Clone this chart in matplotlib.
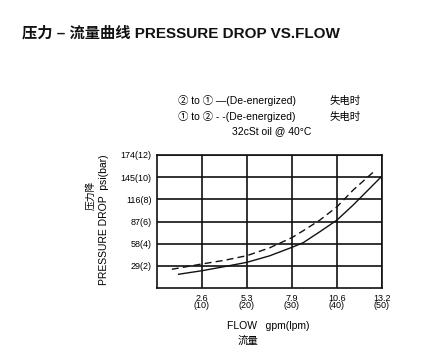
import matplotlib.pyplot as plt

plt.rcParams['font.family'] = ['Liberation Sans', 'Noto Sans CJK SC', 'DejaVu Sans']

# データ (流量 lpm, 圧力 bar)
flow_solid = [4.8, 10, 15, 20, 25, 30, 32.5, 36.2, 40, 43.6, 47.3, 50]
bar_solid = [1.24, 1.56, 1.93, 2.32, 2.9, 3.67, 4.09, 5.08, 6.13, 7.49, 9.0, 10.1]
flow_dash = [3.3, 10, 15, 20, 25, 30, 32.5, 36.2, 40, 43.6, 48.6]
bar_dash = [1.69, 2.17, 2.5, 2.92, 3.62, 4.55, 5.17, 6.13, 7.33, 8.84, 10.65]

x_ticks = [10, 20, 30, 40, 50]
x_labels = ['2.6\n(10)', '5.3\n(20)', '7.9\n(30)', '10.6\n(40)', '13.2\n(50)']
y_ticks = [2, 4, 6, 8, 10, 12]
y_labels = ['29(2)', '58(4)', '87(6)', '116(8)', '145(10)', '174(12)']

fig = plt.figure(figsize=(4.39, 3.58), dpi=100)
ax = fig.add_axes([157/439, 1-288/358, 225/439, 133/358])

ax.plot(flow_solid, bar_solid, color='#111111', linewidth=1.0)
ax.plot(flow_dash, bar_dash, color='#111111', linewidth=1.0, dashes=(5, 3))

ax.set_xlim(0, 50)
ax.set_ylim(0, 12)
ax.set_xticks(x_ticks)
ax.set_xticklabels(x_labels, fontsize=6.5, linespacing=0.8)
ax.set_yticks(y_ticks)
ax.set_yticklabels(y_labels, fontsize=6.5)
ax.tick_params(length=0, pad=4)
ax.grid(True, color='#111111', linewidth=1.2)
for s in ax.spines.values():
    s.set_linewidth(1.2)
    s.set_color('#111111')

# タイトル
fig.text(22/439, 1-33/358, '压力 – 流量曲线 PRESSURE DROP VS.FLOW', fontsize=11,
         fontweight='bold', va='center', ha='left', color='#111111')

# 凡例テキスト
fig.text(178/439, 1-101/358, '② to ① —(De-energized)', fontsize=7.5, va='center', ha='left')
fig.text(178/439, 1-117/358, '① to ② - -(De-energized)', fontsize=7.5, va='center', ha='left')
fig.text(330/439, 1-101/358, '失电时', fontsize=7.5, va='center', ha='left')
fig.text(330/439, 1-117/358, '失电时', fontsize=7.5, va='center', ha='left')
fig.text(272/439, 1-131/358, '32cSt oil @ 40°C', fontsize=7.5, va='center', ha='center')

# 軸ラベル
fig.text(104/439, 1-220/358, 'PRESSURE DROP  psi(bar)', fontsize=7.5, rotation=90,
         va='center', ha='center')
fig.text(91/439, 1-195/358, '压力降', fontsize=7, rotation=90, va='center', ha='center')
fig.text(268/439, 1-326/358, 'FLOW   gpm(lpm)', fontsize=7.5, va='center', ha='center')
fig.text(248/439, 1-341/358, '流量', fontsize=7.5, va='center', ha='center')

plt.savefig('out.png', dpi=100)
